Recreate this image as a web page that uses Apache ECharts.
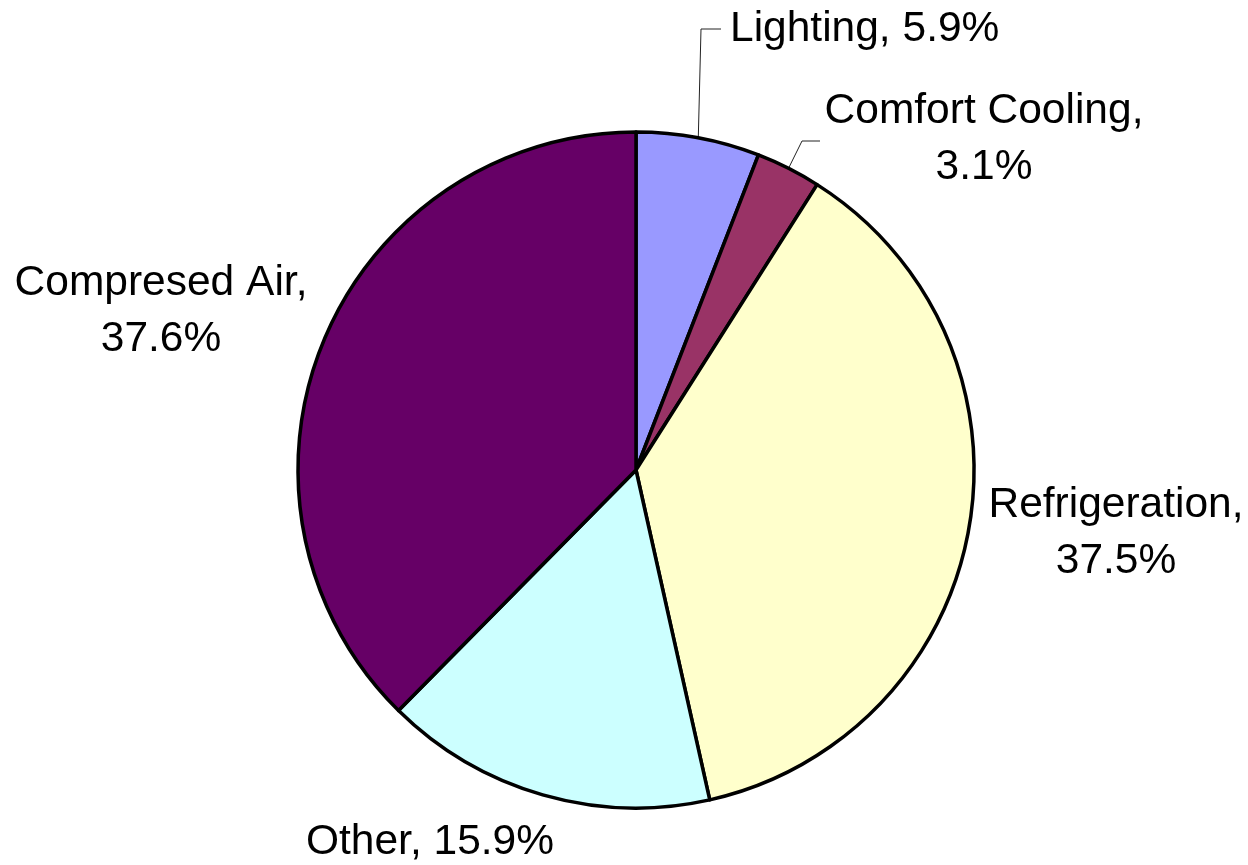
<!DOCTYPE html>
<html>
<head>
<meta charset="utf-8">
<script src="https://cdn.jsdelivr.net/npm/echarts@6/dist/echarts.min.js"></script>
<style>
  html, body { margin: 0; padding: 0; background: #fff; }
  #chart { width: 1248px; height: 865px; }
</style>
</head>
<body>
<div id="chart"></div>
<script>
// data
const categories = ['Lighting', 'Comfort Cooling', 'Refrigeration', 'Other', 'Compresed Air'];
const shares = [5.9, 3.1, 37.5, 15.9, 37.6];
const wrapLabel = [false, true, true, false, true];
const sliceColors = ['#9999FF', '#993366', '#FFFFCC', '#CCFFFF', '#660066'];

// where each label sits (x, y, align) and, if it has one, the leader elbow/end
const labelSpots = [
  { x: 730, y: 29, align: 'left', elbow: [701, 29], end: [721, 29] },
  { x: 984, y: 139, align: 'center', elbow: [802, 141], end: [820, 141] },
  { x: 1116, y: 533, align: 'center' },
  { x: 430, y: 842, align: 'center' },
  { x: 161, y: 311, align: 'center' }
];

const chart = echarts.init(document.getElementById('chart'));

const pieData = categories.map((name, i) => ({
  name: name,
  value: shares[i],
  itemStyle: { color: sliceColors[i] },
  labelLine: { show: !!labelSpots[i].elbow }
}));

chart.setOption({
  animation: false,
  series: [{
    type: 'pie',
    center: [636, 470],
    radius: 338,
    startAngle: 90,
    clockwise: true,
    avoidLabelOverlap: false,
    itemStyle: { borderColor: '#000', borderWidth: 3.5 },
    label: {
      show: true,
      position: 'outside',
      fontFamily: 'Liberation Sans, Arial, sans-serif',
      fontSize: 42.5,
      lineHeight: 56,
      color: '#000',
      formatter: function (p) {
        return p.name + ',' + (wrapLabel[p.dataIndex] ? '\n' : ' ') + p.value + '%';
      }
    },
    labelLine: {
      show: false,
      smooth: false,
      lineStyle: { color: '#222', width: 1 }
    },
    labelLayout: function (params) {
      const spot = labelSpots[params.dataIndex];
      const out = { x: spot.x, y: spot.y, align: spot.align, verticalAlign: 'middle' };
      if (spot.elbow && params.labelLinePoints) {
        const p0 = params.labelLinePoints[0];
        out.labelLinePoints = [p0, spot.elbow, spot.end];
      }
      return out;
    },
    emphasis: { disabled: true },
    data: pieData
  }]
});
</script>
</body>
</html>
